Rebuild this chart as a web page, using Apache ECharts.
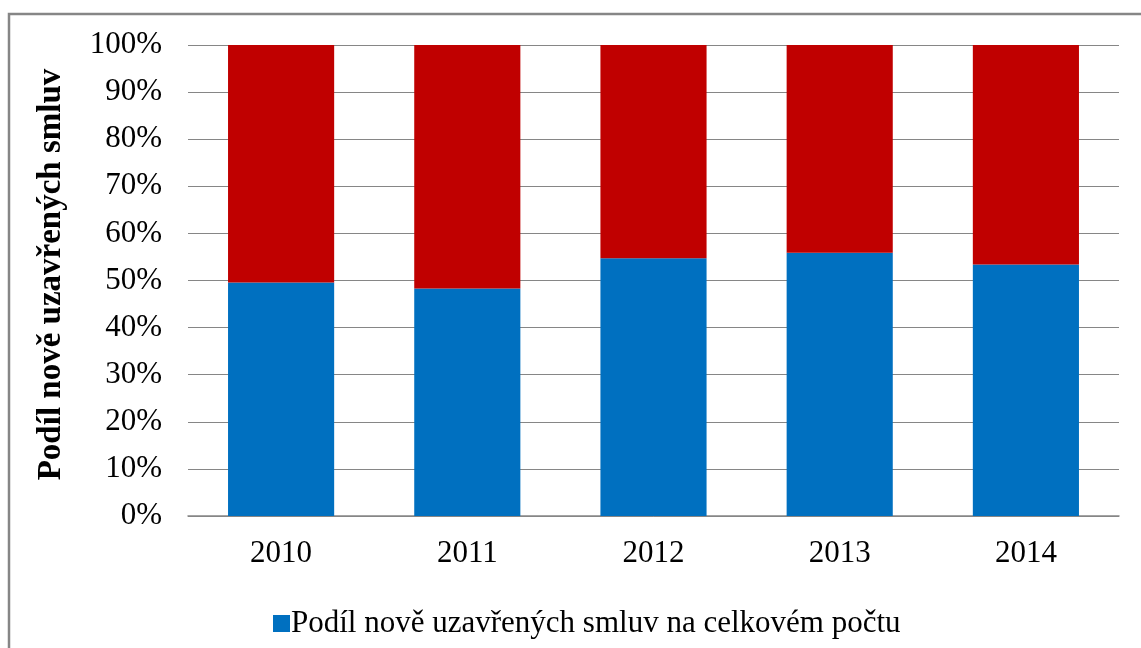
<!DOCTYPE html>
<html>
<head>
<meta charset="utf-8">
<script src="https://cdn.jsdelivr.net/npm/echarts@6/dist/echarts.min.js"></script>
<style>
  html, body { margin: 0; padding: 0; background: #fff; }
  #chart { width: 1141px; height: 648px; }
</style>
</head>
<body>
<div id="chart"></div>
<script>
// Podíl nově uzavřených smluv — stacked 100 % columns, Excel look.
const years = ["2010", "2011", "2012", "2013", "2014"];
const newShare = [49.6, 48.3, 54.7, 55.9, 53.4];
const restShare = [50.4, 51.7, 45.3, 44.1, 46.6];
const yTicks = [0, 10, 20, 30, 40, 50, 60, 70, 80, 90, 100];

const seriesName = "Podíl nově uzavřených smluv na celkovém počtu";
const font = "'Liberation Serif', 'Times New Roman', serif";

const chart = echarts.init(document.getElementById("chart"), null, { renderer: "canvas" });
chart.setOption({
  backgroundColor: "#fff",
  animation: false,
  graphic: [{
    type: "rect",
    shape: { x: 9, y: 14, width: 1200, height: 700 },
    style: { fill: "none", stroke: "#868686", lineWidth: 2.5 },
    silent: true,
  }],
  grid: { left: 188, right: 22, top: 45, bottom: 132 },
  legend: {
    data: [seriesName],
    bottom: 4,
    left: 268,
    itemWidth: 17, itemHeight: 17, itemGap: 6,
    icon: "rect",
    textStyle: { fontFamily: font, fontSize: 31, color: "#000", padding: [0, 0, 0, -4] },
  },
  xAxis: {
    type: "category",
    data: years,
    axisTick: { show: false },
    axisLine: { lineStyle: { color: "#868686", width: 1.5 } },
    axisLabel: { fontFamily: font, fontSize: 31, color: "#000", margin: 22 },
  },
  yAxis: {
    type: "value",
    min: yTicks[0], max: yTicks[yTicks.length - 1], interval: 10,
    name: "Podíl nově uzavřených smluv",
    nameLocation: "middle",
    nameGap: 120,
    nameTextStyle: { fontFamily: font, fontSize: 33, fontWeight: "bold", color: "#000", padding: [0, 0, 0, 12] },
    axisLine: { show: false },
    axisTick: { show: false },
    axisLabel: { fontFamily: font, fontSize: 31, color: "#000", margin: 26, formatter: v => v + "%" },
    splitLine: { lineStyle: { color: "#868686", width: 1 } },
  },
  series: [
    {
      name: seriesName, type: "bar", stack: "s", data: newShare,
      barWidth: "57%", itemStyle: { color: "#0070C0" },
    },
    {
      name: "zbytek", type: "bar", stack: "s", data: restShare,
      barWidth: "57%", itemStyle: { color: "#C00000" },
    },
  ],
});
</script>
</body>
</html>
